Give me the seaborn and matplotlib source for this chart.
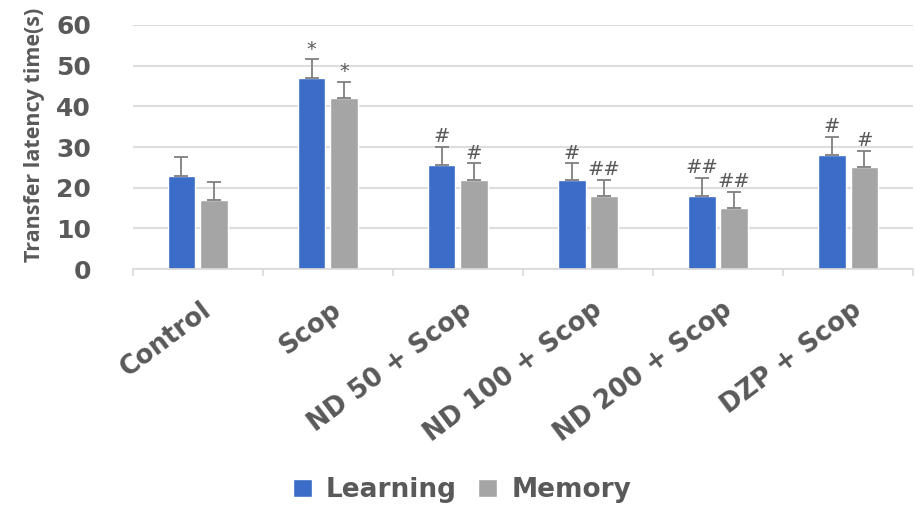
import numpy as np
import pandas as pd
import seaborn as sns
import matplotlib.pyplot as plt
from matplotlib import transforms
from matplotlib.font_manager import FontProperties

groups = ['Control', 'Scop', 'ND 50 + Scop', 'ND 100 + Scop', 'ND 200 + Scop', 'DZP + Scop']
learning = [23, 47, 25.5, 22, 18, 28]
memory = [17, 42, 22, 18, 15, 25]
learning_err = [4.5, 4.5, 4.5, 4, 4.5, 4.5]
memory_err = [4.3, 4, 4, 4, 4, 4]
learning_sig = ['', '*', '#', '#', '##', '#']
memory_sig = ['', '*', '#', '##', '##', '#']

series = ['Learning', 'Memory']
colors = ['#3A6CC8', '#A5A5A5']
text_color = '#595959'

sns.set_style('white')
plt.rcParams['font.family'] = ['DejaVu Sans']
plt.rcParams['font.weight'] = 'bold'

df = pd.DataFrame({
    'group': groups * 2,
    'series': [series[0]] * len(groups) + [series[1]] * len(groups),
    'value': learning + memory,
})

fig = plt.figure(figsize=(9.15, 5.07), dpi=100)
ax = fig.add_axes([0.145, 0.469, 0.853, 0.482])

sns.barplot(data=df, x='group', y='value', hue='series', palette=colors,
            width=0.5, gap=0.15, ax=ax, legend=True, saturation=1)

# error bars (upper only) and significance marks
errs = [learning_err, memory_err]
sigs = [learning_sig, memory_sig]
bar_containers = list(ax.containers)
for k, cont in enumerate(bar_containers):
    xs = [p.get_x() + p.get_width() / 2 for p in cont.patches]
    ys = [p.get_height() for p in cont.patches]
    ax.errorbar(xs, ys, yerr=[np.zeros(len(xs)), errs[k]], fmt='none',
                ecolor='#7F7F7F', elinewidth=1.3, capsize=5, capthick=1.3)
    for x, y, e, s in zip(xs, ys, errs[k], sigs[k]):
        if s:
            ax.text(x, y + e + 0.2, s, ha='center', va='bottom', fontsize=14,
                    color=text_color, fontweight='normal', fontstyle='italic')

ax.set_ylim(0, 60)
ax.set_xlim(-0.5, len(groups) - 0.5)
ax.set_yticks(range(0, 61, 10))
ax.set_xticks(np.arange(-0.5, len(groups), 1), minor=True)
ax.yaxis.grid(True, color='#DDDDDD', linewidth=1.5)
ax.set_axisbelow(True)
for s in ['top', 'right', 'left']:
    ax.spines[s].set_visible(False)
ax.spines['bottom'].set_color('#D9D9D9')
ax.spines['bottom'].set_linewidth(1.2)

ax.set_xlabel('')
ax.set_ylabel('Transfer latency time(s)', color=text_color)
ax.yaxis.label.set_fontproperties(FontProperties(family='Open Sans', weight='bold', size=15.5))
ax.yaxis.set_label_coords(-0.112, 0.55)
ax.tick_params(axis='y', length=0, labelsize=18, labelcolor=text_color, pad=30)
ax.tick_params(axis='x', which='major', length=0, labelsize=18.5,
               labelcolor=text_color, pad=20)
ax.tick_params(axis='x', which='minor', length=5, width=1.2, color='#D9D9D9',
               direction='out', bottom=True)
offset = transforms.ScaledTranslation(0.03, 0, fig.dpi_scale_trans)
for lab in ax.get_xticklabels():
    lab.set_rotation(37)
    lab.set_ha('right')
    lab.set_rotation_mode('anchor')
    lab.set_fontweight('bold')
    lab.set_transform(lab.get_transform() + offset)
for lab in ax.get_yticklabels():
    lab.set_fontweight('bold')

handles, labels = ax.get_legend_handles_labels()
ax.legend_.remove()
fig.legend(handles, labels, loc='center', bbox_to_anchor=(0.505, 0.033),
           ncol=2, frameon=False, handlelength=0.7, handleheight=0.7,
           handletextpad=0.55, columnspacing=0.8,
           prop={'size': 19, 'weight': 'bold'}, labelcolor=text_color)

fig.savefig('out.png', dpi=100)
